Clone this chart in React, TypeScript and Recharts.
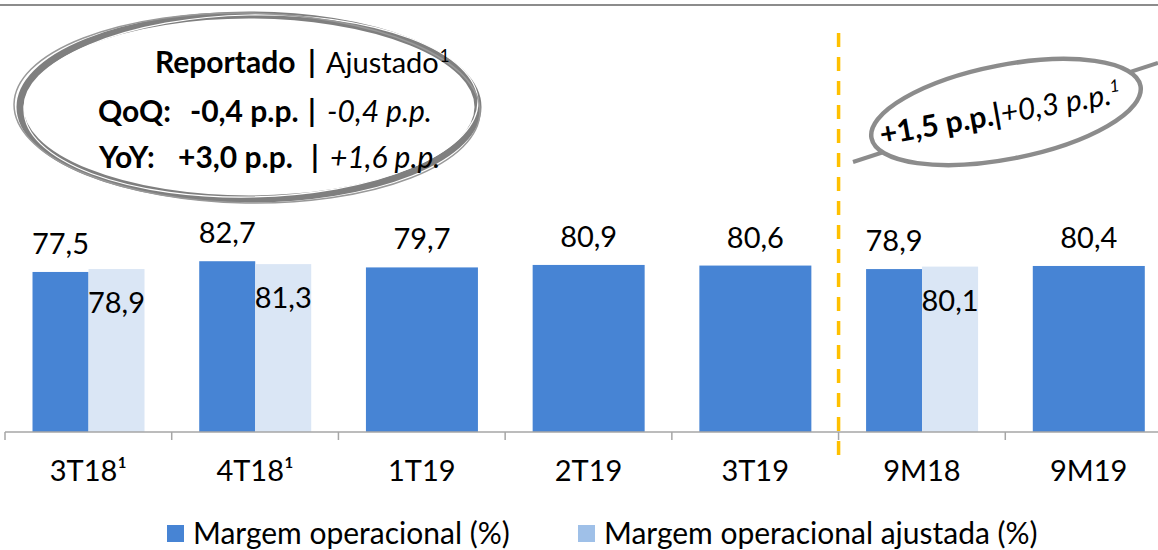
import React from 'react';
import { BarChart, Bar, XAxis, YAxis, ReferenceLine } from 'recharts';

const categories = ['3T18¹', '4T18¹', '1T19', '2T19', '3T19', '9M18', '9M19'];
const reported = [77.5, 82.7, 79.7, 80.9, 80.6, 78.9, 80.4];
const adjusted: (number | null)[] = [78.9, 81.3, null, null, null, 80.1, null];
const seriesNames = ['Margem operacional (%)', 'Margem operacional ajustada (%)'];

const data = categories.map((name, i) => ({ name, reported: reported[i], adjusted: adjusted[i] }));

const FONT = 'Lato, "Open Sans", sans-serif';
const DARK = '#4784D4';
const LIGHT = '#DAE6F5';
const LIGHT_KEY = '#9FC0E8';
const AXIS = '#A6A6A6';

const fmt = (v: number) => v.toFixed(1).replace('.', ',');

function ReportedBar(props: any) {
  const { x, y, width, height, payload } = props;
  // categories without an adjusted value get one wide bar
  const w = payload.adjusted == null ? width * 2 : width;
  return (
    <g>
      <rect x={x} y={y} width={w} height={height} fill={DARK} />
      <text x={x + w / 2} y={y - 18} textAnchor="middle" fontSize={29} fontFamily={FONT} fill="#000">
        {fmt(payload.reported)}
      </text>
    </g>
  );
}

function AdjustedBar(props: any) {
  const { x, y, width, height, payload } = props;
  if (payload.adjusted == null) return <g />;
  return (
    <g>
      <rect x={x} y={y} width={width} height={height} fill={LIGHT} />
      <text x={x + width / 2} y={y + 44} textAnchor="middle" fontSize={29} fontFamily={FONT} fill="#000">
        {fmt(payload.adjusted)}
      </text>
    </g>
  );
}

function CategoryTick(props: any) {
  const { x, y, payload } = props;
  const half = payload.offset || 83.4;
  return (
    <g>
      <line x1={x - half} x2={x - half} y1={y - 8} y2={y} stroke={AXIS} strokeWidth={1.5} />
      <text x={x} y={y + 41} textAnchor="middle" fontSize={29} fontFamily={FONT} fill="#000">
        {payload.value}
      </text>
    </g>
  );
}

function DashedDivider(props: any) {
  const { x1, y1, y2 } = props;
  const top = Math.min(y1, y2);
  const bottom = Math.max(y1, y2);
  return (
    <line x1={x1} x2={x1} y1={top + 14} y2={bottom + 31} stroke="#FFC000" strokeWidth={3.5} strokeDasharray="14 10" />
  );
}

function Overlay() {
  return (
    <svg width={1158} height={550} style={{ position: 'absolute', top: 0, left: 0, pointerEvents: 'none' }}>
      <line x1={0} x2={1158} y1={5} y2={5} stroke="#8C8C8C" strokeWidth={2} />

      {/* hand drawn ellipse, left */}
      <ellipse cx={249} cy={107} rx={229} ry={92} fill="none" stroke="#7F7F7F" strokeWidth={7} />
      <ellipse cx={251} cy={106} rx={227} ry={91} fill="none" stroke="#fff" strokeWidth={1.2} transform="rotate(-1.2 251 106)" />
      <ellipse cx={247} cy={108} rx={233} ry={95} fill="none" stroke="#999" strokeWidth={1.5} transform="rotate(1 247 108)" />

      <g fontFamily={FONT} fontSize={30} fill="#000">
        <text y={73}>
          <tspan x={155} fontWeight="bold">Reportado</tspan>
          <tspan x={308} fontWeight="bold">|</tspan>
          <tspan x={326} fontSize={29}>Ajustado</tspan>
          <tspan dx={1} dy={-11} fontSize={17}>1</tspan>
        </text>
        <text y={122}>
          <tspan x={98} fontWeight="bold">QoQ:</tspan>
          <tspan x={190} fontWeight="bold">-0,4 p.p.</tspan>
          <tspan x={308} fontWeight="bold">|</tspan>
          <tspan x={327} fontStyle="italic">-0,4 p.p.</tspan>
        </text>
        <text y={168}>
          <tspan x={99} fontWeight="bold">YoY:</tspan>
          <tspan x={178} fontWeight="bold">+3,0 p.p.</tspan>
          <tspan x={311} fontWeight="bold">|</tspan>
          <tspan x={330} fontStyle="italic">+1,6 p.p.</tspan>
        </text>
      </g>

      {/* tilted ellipse, right */}
      <line x1={853} y1={162} x2={1158} y2={63} stroke="#8C8C8C" strokeWidth={4} />
      <ellipse cx={1006} cy={112} rx={137} ry={47} fill="#fff" stroke="#8C8C8C" strokeWidth={4.5} transform="rotate(-11 1006 112)" />
      <g transform="rotate(-10 1006 112)" fontFamily={FONT} fill="#000">
        <text x={1000} y={123} textAnchor="middle">
          <tspan fontWeight="bold" fontSize={30}>+1,5 p.p.|</tspan>
          <tspan fontStyle="italic" fontSize={30}>+0,3 p.p.</tspan>
          <tspan fontStyle="italic" fontSize={17} dy={-12}>1</tspan>
        </text>
      </g>

      {/* legend */}
      <g fontFamily={FONT} fontSize={30} fill="#000">
        <rect x={167} y={525} width={17} height={17} fill={DARK} />
        <text x={193} y={544}>{seriesNames[0]}</text>
        <rect x={578} y={525} width={17} height={17} fill={LIGHT_KEY} />
        <text x={604} y={544}>{seriesNames[1]}</text>
      </g>
    </svg>
  );
}

export default function App() {
  return (
    <div style={{ position: 'absolute', top: 0, left: 0, width: 1158, height: 550, background: '#fff' }}>
      <BarChart
        width={1158}
        height={550}
        data={data}
        margin={{ top: 19, right: -14, bottom: 88, left: 5 }}
        barCategoryGap="16.5%"
        barGap={0}
      >
        <XAxis
          dataKey="name"
          interval={0}
          height={30}
          tickSize={8}
          tickMargin={0}
          tickLine={false}
          axisLine={{ stroke: AXIS, strokeWidth: 1.5 }}
          tick={<CategoryTick />}
        />
        <YAxis hide domain={[0, 200]} />
        <Bar dataKey="reported" fill={DARK} shape={<ReportedBar />} isAnimationActive={false} />
        <Bar dataKey="adjusted" fill={LIGHT} shape={<AdjustedBar />} isAnimationActive={false} />
        <ReferenceLine x="9M18" position="start" shape={<DashedDivider />} />
      </BarChart>
      <Overlay />
    </div>
  );
}
